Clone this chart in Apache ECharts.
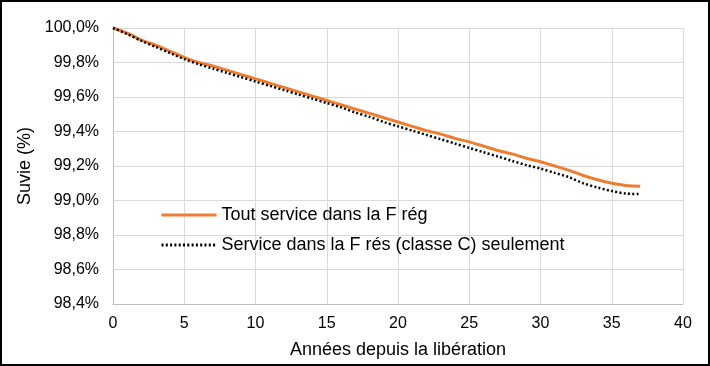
<!DOCTYPE html>
<html><head><meta charset="utf-8">
<script src="https://cdn.jsdelivr.net/npm/echarts@6/dist/echarts.min.js"></script>
<style>html,body{margin:0;padding:0;background:#fff}#c{width:710px;height:366px;box-sizing:border-box;border:2px solid #000}</style>
</head><body><div id="c"></div>
<script>
const years = [0,1,2,3,4,5,6,7,8,9,10,11,12,13,14,15,16,17,18,19,20,21,22,23,24,25,26,27,28,29,30,31,32,33,34,35,36,37];
const toutService = [100.0,99.97,99.93,99.90,99.865,99.83,99.80,99.78,99.755,99.73,99.705,99.68,99.655,99.63,99.605,99.58,99.555,99.53,99.505,99.48,99.455,99.43,99.405,99.385,99.36,99.34,99.315,99.29,99.27,99.245,99.225,99.20,99.175,99.145,99.12,99.10,99.087,99.083];
const classeC = [100.0,99.965,99.925,99.89,99.855,99.82,99.79,99.765,99.74,99.715,99.69,99.665,99.64,99.615,99.59,99.565,99.54,99.51,99.485,99.455,99.43,99.405,99.38,99.355,99.33,99.305,99.28,99.255,99.23,99.205,99.185,99.16,99.135,99.10,99.075,99.055,99.04,99.037];
const seriesNames = ['Tout service dans la F rég','Service dans la F rés (classe C) seulement'];
const xTitle = 'Années depuis la libération';
const yTitle = 'Suvie (%)';

const chart = echarts.init(document.getElementById('c'));
const font = 'Liberation Sans, Arial, sans-serif';
chart.setOption({
  animation:false,
  textStyle:{fontFamily:font},
  grid:{left:111,right:25,top:26,bottom:58},
  legend:{
    orient:'vertical', left:153, top:199, itemWidth:55, itemHeight:18, itemGap:12,
    textStyle:{fontSize:18,color:'#000',fontFamily:font},
    itemStyle:{opacity:0},
    lineStyle:{width:3},
    data:seriesNames
  },
  xAxis:{
    type:'value', min:0, max:40, interval:5,
    name:xTitle, nameLocation:'middle', nameGap:37,
    nameTextStyle:{fontSize:18,color:'#000',fontFamily:font},
    axisLine:{show:true,lineStyle:{color:'#bfbfbf',width:1}},
    axisTick:{show:false},
    axisLabel:{fontSize:16,color:'#000',margin:12,fontFamily:font},
    splitLine:{show:true,lineStyle:{color:'#d9d9d9',width:1}}
  },
  yAxis:{
    type:'value', min:98.4, max:100, interval:0.2,
    name:yTitle, nameLocation:'middle', nameGap:72, nameRotate:90,
    nameTextStyle:{fontSize:18,color:'#000',fontFamily:font},
    axisLine:{show:true,lineStyle:{color:'#bfbfbf',width:1}},
    axisTick:{show:false},
    axisLabel:{fontSize:16,color:'#000',margin:14,fontFamily:font,
      formatter:v=>v.toFixed(1).replace('.',',')+'%'},
    splitLine:{show:true,lineStyle:{color:'#d9d9d9',width:1}}
  },
  series:[
    {name:seriesNames[0],type:'line',symbol:'none',smooth:0.3,
     data:years.map((x,i)=>[x,toutService[i]]),
     lineStyle:{color:'#ED7D31',width:3},itemStyle:{color:'#ED7D31'},z:2},
    {name:seriesNames[1],type:'line',symbol:'none',smooth:0.3,
     data:years.map((x,i)=>[x,classeC[i]]),
     lineStyle:{color:'#000',width:2.5,type:[2,2.3]},itemStyle:{color:'#000'},z:3}
  ]
});
</script></body></html>
